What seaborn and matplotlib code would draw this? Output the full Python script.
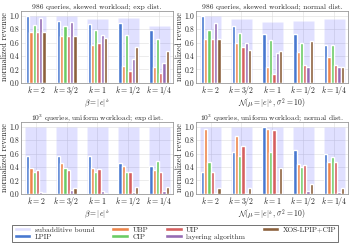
import matplotlib
matplotlib.use("Agg")
import matplotlib.pyplot as plt
from matplotlib.patches import Patch
import seaborn as sns
import pandas as pd

k_labels = ['$k = 2$', '$k = 3/2$', '$k = 1$', '$k = 1/2$', '$k = 1/4$']
algorithms = ['LPIP', 'UBP', 'CIP', 'UIP', 'layering algorithm', 'XOS-LPIP+CIP']

titles = ['986 queries, skewed workload; exp dist.',
          '986 queries, skewed workload; normal dist.',
          '$10^3$ queries, uniform workload; exp dist.',
          '$10^3$ queries, uniform workload; normal dist.']
xlabels = [r'$\beta = |e|^k$', r'$\mathcal{N}(\mu = |e|^k,\, \sigma^2 = 10)$',
           r'$\beta = |e|^k$', r'$\mathcal{N}(\mu = |e|^k,\, \sigma^2 = 10)$']

# values per algorithm (rows) across k groups (columns)
skew_exp_bound = [1.00, 1.00, 0.95, 0.96, 0.85]
skew_exp = [
    [1.00, 0.92, 0.88, 0.89, 0.79],   # LPIP
    [0.76, 0.70, 0.56, 0.25, 0.23],   # UBP
    [0.86, 0.85, 0.78, 0.71, 0.66],   # CIP
    [0.76, 0.70, 0.60, 0.18, 0.15],   # UIP
    [0.97, 0.90, 0.72, 0.36, 0.30],   # layering
    [0.76, 0.70, 0.67, 0.54, 0.47],   # XOS-LPIP+CIP
]
skew_norm_bound = [1.00, 0.95, 0.90, 0.92, 0.95]
skew_norm = [
    [1.00, 0.84, 0.73, 0.73, 0.56],
    [0.66, 0.60, 0.24, 0.46, 0.38],
    [0.79, 0.75, 0.64, 0.60, 0.57],
    [0.66, 0.53, 0.13, 0.27, 0.27],
    [0.89, 0.59, 0.44, 0.24, 0.23],
    [0.66, 0.49, 0.47, 0.63, 0.23],
]
unif_exp_bound = [1.00, 1.00, 1.00, 1.00, 1.00]
unif_exp = [
    [0.56, 0.56, 0.56, 0.46, 0.41],
    [0.39, 0.46, 0.39, 0.41, 0.36],
    [0.32, 0.39, 0.32, 0.32, 0.49],
    [0.36, 0.36, 0.37, 0.32, 0.32],
    [0.03, 0.06, 0.04, 0.03, 0.04],
    [0.02, 0.08, 0.02, 0.10, 0.10],
]
unif_norm_bound = [1.00, 1.00, 1.00, 1.00, 1.00]
unif_norm = [
    [0.33, 0.62, 1.00, 0.65, 0.60],
    [0.97, 0.86, 0.97, 0.45, 0.48],
    [0.48, 0.57, 0.63, 0.40, 0.55],
    [0.33, 0.72, 0.96, 0.43, 0.47],
    [0.02, 0.02, 0.02, 0.04, 0.03],
    [0.08, 0.08, 0.39, 0.15, 0.09],
]

panels = [(skew_exp, skew_exp_bound), (skew_norm, skew_norm_bound),
          (unif_exp, unif_exp_bound), (unif_norm, unif_norm_bound)]

sns.set_theme(style='whitegrid')
plt.rcParams['font.family'] = ['cmr10', 'DejaVu Serif']
plt.rcParams['mathtext.fontset'] = 'cm'
plt.rcParams['axes.formatter.use_mathtext'] = True
plt.rcParams['axes.unicode_minus'] = False

FS_T = 5.4
FS = 5.5
palette = sns.color_palette('muted', 6)
bound_color = (0.0, 0.0, 1.0, 0.12)

fig, axes = plt.subplots(2, 2, figsize=(3.5, 2.46), dpi=100)
fig.subplots_adjust(left=0.06, right=0.994, top=0.955, bottom=0.212,
                    wspace=0.15, hspace=0.55)

for ax, (vals, bound), title, xl in zip(axes.flat, panels, titles, xlabels):
    bdf = pd.DataFrame({'k': k_labels, 'bound': bound})
    sns.barplot(data=bdf, x='k', y='bound', color='blue', alpha=0.12,
                width=0.68, ax=ax, saturation=1)
    rows = []
    for a, series in zip(algorithms, vals):
        for k, v in zip(k_labels, series):
            rows.append({'k': k, 'algorithm': a, 'revenue': v})
    df = pd.DataFrame(rows)
    sns.barplot(data=df, x='k', y='revenue', hue='algorithm',
                hue_order=algorithms, palette=palette, width=0.64,
                ax=ax, legend=False, saturation=1)
    ax.set_ylim(0, 1.07)
    ax.set_xlim(-0.48, 4.45)
    ax.set_yticks([0, 0.2, 0.4, 0.6, 0.8, 1.0])
    ax.set_yticklabels(['0.0', '0.2', '0.4', '0.6', '0.8', '1.0'])
    ax.set_title(title, fontsize=FS_T, pad=1.5)
    ax.set_xlabel(xl, fontsize=FS, labelpad=0.2)
    ax.set_ylabel('normalized revenue', fontsize=5.8, labelpad=0.5)
    ax.tick_params(axis='y', labelsize=FS, pad=1, length=0)
    ax.tick_params(axis='x', labelsize=FS + 0.2, pad=0.8, length=0)
    ax.grid(True, linewidth=0.4, color='#dddddd')
    for s in ax.spines.values():
        s.set_linewidth(0.6)
        s.set_color('#999999')

handles = [Patch(facecolor=bound_color, label='subadditive bound')]
handles += [Patch(facecolor=c, label=a) for c, a in zip(palette, algorithms)]
leg = fig.legend(handles=handles, loc='lower center', bbox_to_anchor=(0.5, 0.003),
                 ncol=4, fontsize=5.3, frameon=True, fancybox=False,
                 edgecolor='#333333', handlelength=2.4, handleheight=0.6,
                 handletextpad=0.45, columnspacing=2.3, borderpad=0.25,
                 labelspacing=0.15)
leg.get_frame().set_linewidth(0.6)

fig.savefig('out.png', dpi=100)
